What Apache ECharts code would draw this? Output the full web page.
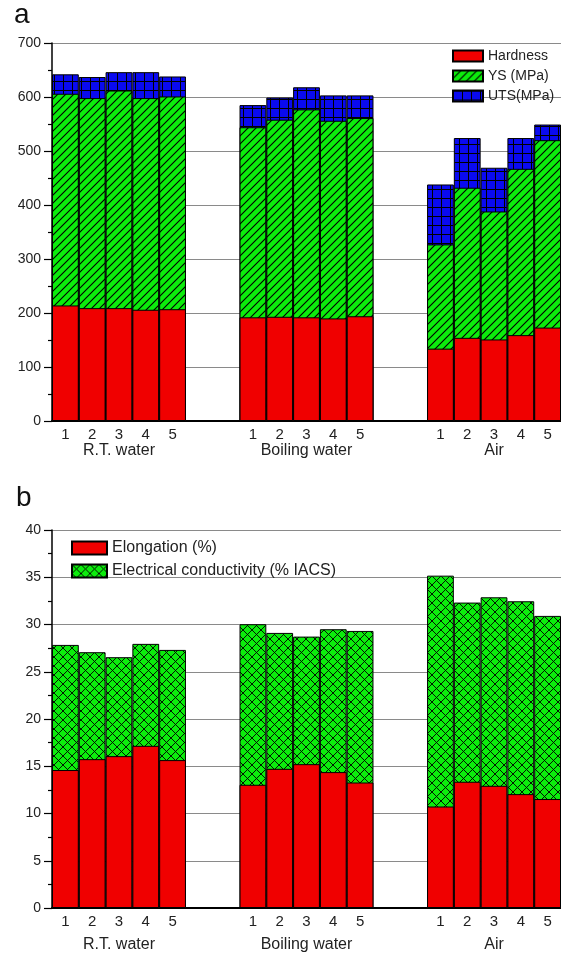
<!DOCTYPE html>
<html>
<head>
<meta charset="utf-8">
<script src="https://cdn.jsdelivr.net/npm/echarts@6/dist/echarts.min.js"></script>
<style>
html,body{margin:0;padding:0;background:#fff;}
#chart{width:561px;height:954px;}
</style>
</head>
<body>
<div id="chart"></div>
<script>
// ---- data ----
const categories = ['1','2','3','4','5','','','1','2','3','4','5','','','1','2','3','4','5'];
const groupLabels = ['R.T. water', 'Boiling water', 'Air'];
const groupCenterIndex = [2, 9, 16];
const yTicksA = [0, 100, 200, 300, 400, 500, 600, 700];
const yTicksB = [0, 5, 10, 15, 20, 25, 30, 35, 40];
const hardness = [214, 209, 209, 206, 207, null, null, 192, 193, 192, 190, 194, null, null, 134, 154, 151, 159, 173];
const ysMPa    = [606, 598, 612, 598, 601, null, null, 544, 558, 577, 556, 561, null, null, 327, 432, 388, 467, 520];
const utsMPa   = [642, 637, 646, 646, 638, null, null, 585, 599, 618, 603, 603, null, null, 438, 524, 469, 524, 549];
const elongation   = [14.6, 15.75, 16.07, 17.16, 15.65, null, null, 13.04, 14.73, 15.22, 14.38, 13.28, null, null, 10.74, 13.36, 12.93, 12.05, 11.53];
const conductivity = [27.84, 27.07, 26.54, 27.95, 27.31, null, null, 30.03, 29.11, 28.72, 29.5, 29.32, null, null, 35.17, 32.32, 32.88, 32.46, 30.91];

// ---- patterns ----
function makePattern(bg, size, lw, draw) {
  const c = document.createElement('canvas');
  c.width = size; c.height = size;
  const ctx = c.getContext('2d');
  ctx.fillStyle = bg;
  ctx.fillRect(0, 0, size, size);
  ctx.strokeStyle = '#000';
  ctx.lineWidth = lw;
  draw(ctx, size);
  return { image: c, repeat: 'repeat' };
}
const RED = '#f00000', GREEN = '#0cec0c', BLUE = '#0a0af0';
const diagPattern = makePattern(GREEN, 8, 1.1, (ctx, s) => {
  ctx.beginPath();
  ctx.moveTo(-1, s + 1); ctx.lineTo(s + 1, -1);
  ctx.moveTo(-2, 2); ctx.lineTo(2, -2);
  ctx.moveTo(s - 2, s + 2); ctx.lineTo(s + 2, s - 2);
  ctx.stroke();
});
const gridPattern = makePattern(BLUE, 9, 1, (ctx, s) => {
  ctx.beginPath();
  ctx.moveTo(0, 0.5); ctx.lineTo(s, 0.5);
  ctx.moveTo(0.5, 0); ctx.lineTo(0.5, s);
  ctx.stroke();
});
const crossPattern = makePattern(GREEN, 9, 0.9, (ctx, s) => {
  ctx.beginPath();
  ctx.moveTo(-1, -1); ctx.lineTo(s + 1, s + 1);
  ctx.moveTo(-1, s + 1); ctx.lineTo(s + 1, -1);
  ctx.stroke();
});

const FONT = 'Liberation Sans, Arial, sans-serif';

function xAxisFor(gridIndex, gLineHeight) {
  return {
    type: 'category', gridIndex: gridIndex, data: categories,
    axisLine: { lineStyle: { color: '#000', width: 2 } },
    axisTick: { show: false },
    splitLine: { show: false },
    axisLabel: {
      interval: 0, margin: 5, color: '#222', fontFamily: FONT,
      formatter: function (v, i) {
        const gi = groupCenterIndex.indexOf(i);
        if (gi >= 0) return '{n|' + v + '}\n{g|' + groupLabels[gi] + '}';
        return v ? '{n|' + v + '}' : '';
      },
      rich: {
        n: { fontSize: 15, lineHeight: 18, fontFamily: FONT, color: '#222' },
        g: { fontSize: 16, lineHeight: gLineHeight, fontFamily: FONT, color: '#222' }
      }
    }
  };
}
function yAxisFor(gridIndex, ticks) {
  return {
    type: 'value', gridIndex: gridIndex,
    min: ticks[0], max: ticks[ticks.length - 1], interval: ticks[1] - ticks[0],
    axisLine: { show: true, lineStyle: { color: '#000', width: 1.5 } },
    axisTick: { show: true, length: 8, lineStyle: { color: '#000', width: 1.2 } },
    minorTick: { show: true, splitNumber: 2, length: 4, lineStyle: { color: '#000', width: 1.2 } },
    splitLine: { show: true, lineStyle: { color: '#8a8a8a', width: 1.2 } },
    axisLabel: { fontSize: 14, color: '#222', fontFamily: FONT, margin: 11 }
  };
}
const barCommon = { type: 'bar', barCategoryGap: '0%', barGap: '-100%', animation: false };
const border = { borderColor: '#000', borderWidth: 1 };

const option = {
  backgroundColor: '#fff',
  animation: false,
  title: [
    { text: 'a', left: 14, top: 1, padding: 0, textStyle: { fontSize: 28, fontWeight: 'normal', color: '#111', fontFamily: FONT } },
    { text: 'b', left: 16, top: 484, padding: 0, textStyle: { fontSize: 28, fontWeight: 'normal', color: '#111', fontFamily: FONT } }
  ],
  grid: [
    { left: 52, right: 0, top: 43, height: 378 },
    { left: 52, right: 0, top: 530, height: 378 }
  ],
  legend: [
    {
      data: ['Hardness', 'YS (MPa)', 'UTS(MPa)'], orient: 'vertical', left: 452, top: 49,
      itemWidth: 30, itemHeight: 11, itemGap: 6, padding: 0, icon: 'rect',
      textStyle: { fontSize: 14, color: '#222', fontFamily: FONT }
    },
    {
      data: ['Elongation (%)', 'Electrical conductivity (% IACS)'], orient: 'vertical', left: 71, top: 540,
      itemWidth: 35, itemHeight: 13, itemGap: 7, padding: 0, icon: 'rect',
      textStyle: { fontSize: 16, color: '#222', fontFamily: FONT }
    }
  ],
  xAxis: [xAxisFor(0, 14), xAxisFor(1, 28)],
  yAxis: [yAxisFor(0, yTicksA), yAxisFor(1, yTicksB)],
  series: [
    Object.assign({}, barCommon, { name: 'UTS(MPa)', xAxisIndex: 0, yAxisIndex: 0, data: utsMPa, itemStyle: Object.assign({ color: gridPattern }, border) }),
    Object.assign({}, barCommon, { name: 'YS (MPa)', xAxisIndex: 0, yAxisIndex: 0, data: ysMPa, itemStyle: Object.assign({ color: diagPattern }, border) }),
    Object.assign({}, barCommon, { name: 'Hardness', xAxisIndex: 0, yAxisIndex: 0, data: hardness, itemStyle: Object.assign({ color: RED }, border) }),
    Object.assign({}, barCommon, { name: 'Electrical conductivity (% IACS)', xAxisIndex: 1, yAxisIndex: 1, data: conductivity, itemStyle: Object.assign({ color: crossPattern }, border) }),
    Object.assign({}, barCommon, { name: 'Elongation (%)', xAxisIndex: 1, yAxisIndex: 1, data: elongation, itemStyle: Object.assign({ color: RED }, border) })
  ]
};
const chart = echarts.init(document.getElementById('chart'), null, { renderer: 'canvas' });
chart.setOption(option);
</script>
</body>
</html>
